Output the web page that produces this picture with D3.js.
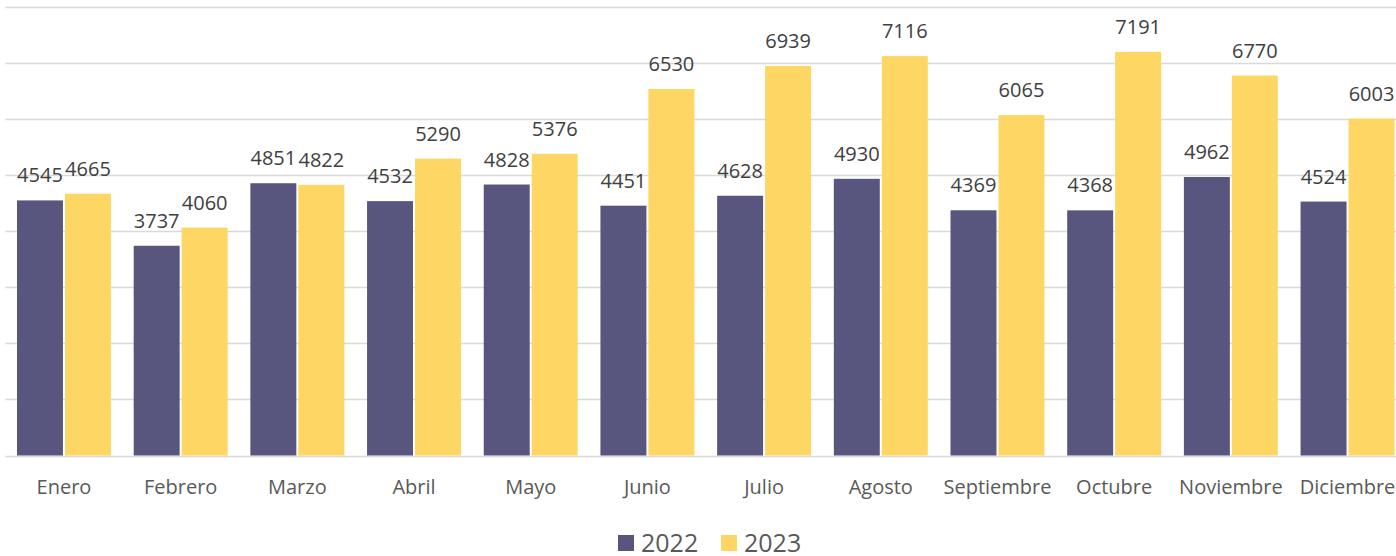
<!DOCTYPE html>
<html>
<head>
<meta charset="utf-8">
<script src="https://cdn.jsdelivr.net/npm/d3@7"></script>
<style>
  html, body { margin: 0; padding: 0; background: #fff; }
  svg { display: block; font-family: "Open Sans", "Noto Sans", sans-serif; }
</style>
</head>
<body>
<svg id="chart" width="1396" height="556"></svg>
<script>
// data
const months = ["Enero", "Febrero", "Marzo", "Abril", "Mayo", "Junio", "Julio",
  "Agosto", "Septiembre", "Octubre", "Noviembre", "Diciembre"];
const seriesNames = ["2022", "2023"];
const values2022 = [4545, 3737, 4851, 4532, 4828, 4451, 4628, 4930, 4369, 4368, 4962, 4524];
const values2023 = [4665, 4060, 4822, 5290, 5376, 6530, 6939, 7116, 6065, 7191, 6770, 6003];
const yTicks = [0, 1000, 2000, 3000, 4000, 5000, 6000, 7000, 8000];
const colors = ["#58567e", "#fdd663"];

let svg = d3.select("#chart");

let plotLeft = 5.5;
let plotRight = 1406;
let plotTop = 6.5;
let plotBottom = 455.5;

let rows = months.map(function(m, i){
  return {month: m, vals: [values2022[i], values2023[i]]};
});

let x = d3.scaleBand()
    .domain(months)
    .range([plotLeft, plotRight])
    .paddingInner(0.195)
    .paddingOuter(0.0985);

let x1 = d3.scaleBand()
    .domain(seriesNames)
    .range([0, x.bandwidth()])
    .paddingInner(0.042);

let y = d3.scaleLinear()
    .domain([0, 8000])
    .range([plotBottom, plotTop]);

// gridlines
svg.append("g")
    .selectAll("line")
    .data(yTicks)
    .enter()
    .append("line")
    .attr("x1", plotLeft)
    .attr("x2", 1396)
    .attr("y1", d => Math.round(y(d)) + 0.5)
    .attr("y2", d => Math.round(y(d)) + 0.5)
    .attr("stroke", "#d9d9d9")
    .attr("stroke-width", 1.5);

// bars
let groups = svg.append("g")
    .selectAll("g")
    .data(rows)
    .enter()
    .append("g")
    .attr("transform", d => "translate(" + x(d.month) + ",0)");

groups.selectAll("rect")
    .data(d => d.vals.map((v, k) => ({key: seriesNames[k], v: v, k: k})))
    .enter()
    .append("rect")
    .attr("x", d => x1(d.key))
    .attr("y", d => y(d.v))
    .attr("width", x1.bandwidth())
    .attr("height", d => y(0) - y(d.v))
    .attr("fill", d => colors[d.k]);

// value labels
groups.selectAll("text")
    .data(d => d.vals.map((v, k) => ({key: seriesNames[k], v: v, k: k})))
    .enter()
    .append("text")
    .attr("x", d => x1(d.key) + x1.bandwidth() / 2)
    .attr("y", d => y(d.v) - 18)
    .attr("text-anchor", "middle")
    .attr("font-size", "20px")
    .attr("fill", "#404040")
    .text(d => d.v);

// x axis labels
let xAxis = d3.axisBottom(x).tickSize(0).tickPadding(0);
let xg = svg.append("g")
    .attr("transform", "translate(0," + plotBottom + ")")
    .call(xAxis);
xg.select(".domain").remove();
xg.selectAll("text")
    .attr("y", 38)
    .attr("dy", 0)
    .attr("font-size", "20px")
    .attr("font-family", "'Open Sans', sans-serif")
    .attr("fill", "#595959");

// legend
let legend = svg.append("g").attr("transform", "translate(618,0)");
let legendX = [0, 103];
seriesNames.forEach(function(name, k){
  legend.append("rect")
      .attr("x", legendX[k])
      .attr("y", 535)
      .attr("width", 16)
      .attr("height", 16)
      .attr("fill", colors[k]);
  legend.append("text")
      .attr("x", legendX[k] + 23)
      .attr("y", 552)
      .attr("font-size", "25px")
      .attr("fill", "#595959")
      .text(name);
});
</script>
</body>
</html>
